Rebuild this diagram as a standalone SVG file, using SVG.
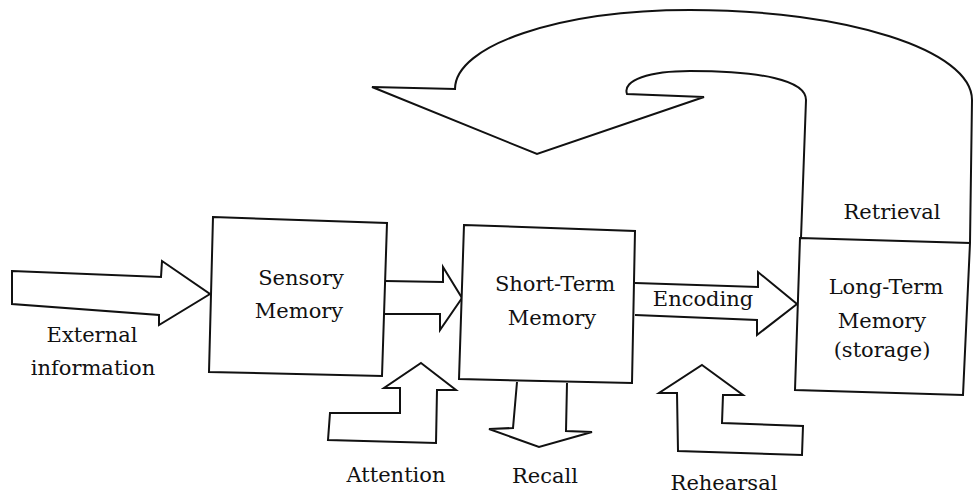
<svg xmlns="http://www.w3.org/2000/svg" width="974" height="495" viewBox="0 0 974 495">
<style>
.shape{fill:#fff;stroke:#111;stroke-width:2;stroke-linejoin:miter}
.line{fill:none;stroke:#111;stroke-width:2;stroke-linejoin:miter}
text{font-family:"DejaVu Serif","Liberation Serif",serif;font-size:21px;fill:#111;text-anchor:middle}
</style>
<rect width="974" height="495" fill="#fff"/>
<g id="connectors">
  <path id="arrow-external" class="shape" d="M12,271 L161,277 L162,261 L210,294 L159,325 L159,315 L12,304 Z"/>
  <path id="arrow-sensory-stm" class="line" d="M385,281 L443,282 L443,267 L462,298 L440,330 L440,314 L385,314"/>
  <path id="arrow-encoding" class="line" d="M635,283 L758,287 L758,272 L797,304 L757,335 L757,320 L635,315"/>
  <path id="arrow-retrieval" class="line" d="M801,238 L806,100 C806,80 760,71 690,71 C650,71 622,80 627,94 L704,97 L537,154 L372,87 L455,89 C455,45 560,10 690,10 C846,10 972,50 972,100 L970,243"/>
  <path id="arrow-attention" class="shape" d="M421,363 L456,390 L437,390 L436,443 L328,440 L330,413 L400,413 L400,388 L384,388 Z"/>
  <path id="arrow-recall" class="line" d="M517,382 L513,428 L489,429 L539,447 L592,432 L566,431 L567,383"/>
  <path id="arrow-rehearsal" class="shape" d="M702,365 L743,395 L723,395 L722,423 L803,426 L802,455 L678,451 L677,393 L659,393 Z"/>
</g>
<g id="sensory-memory">
  <path class="shape" d="M213,217 L387,223 L382,376 L209,372 Z"/>
  <text x="301" y="285">Sensory</text>
  <text x="299" y="318">Memory</text>
</g>
<g id="short-term-memory">
  <path class="shape" d="M464,225 L635,231 L632,383 L459,379 Z"/>
  <text x="555" y="291">Short-Term</text>
  <text x="552" y="325">Memory</text>
</g>
<g id="long-term-memory">
  <path class="shape" d="M800,238 L970,243 L963,395 L795,390 Z"/>
  <text x="886" y="294">Long-Term</text>
  <text x="882" y="328">Memory</text>
  <text x="882" y="357">(storage)</text>
</g>
<g id="labels">
  <text x="92" y="342">External</text>
  <text x="93" y="375">information</text>
  <text x="703" y="306">Encoding</text>
  <text x="892" y="219">Retrieval</text>
  <text x="396" y="482">Attention</text>
  <text x="545" y="483">Recall</text>
  <text x="724" y="490">Rehearsal</text>
</g>
</svg>
